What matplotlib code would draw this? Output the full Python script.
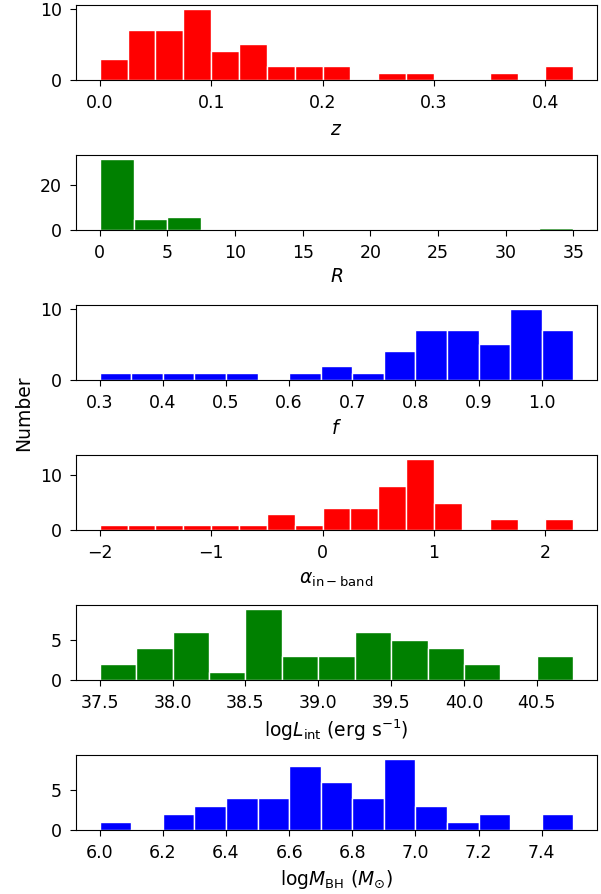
import numpy as np
import matplotlib
matplotlib.use("Agg")
import matplotlib.pyplot as plt

# bin starts / widths / counts
z_start, z_width = 0.0, 0.025
z_counts = [3, 7, 7, 10, 4, 5, 2, 2, 2, 0, 1, 1, 0, 0, 1, 0, 2]

R_start, R_width = 0.0, 2.5
R_counts = [32, 5, 6, 0, 0, 0, 0, 0, 0, 0, 0, 0, 0, 1]

f_start, f_width = 0.3, 0.05
f_counts = [1, 1, 1, 1, 1, 0, 1, 2, 1, 4, 7, 7, 5, 10, 7]

a_start, a_width = -2.0, 0.25
a_counts = [1, 1, 1, 1, 1, 1, 3, 1, 4, 4, 8, 13, 5, 0, 2, 0, 2]

L_start, L_width = 37.5, 0.25
L_counts = [2, 4, 6, 1, 9, 3, 3, 6, 5, 4, 2, 0, 3]

M_start, M_width = 6.0, 0.1
M_counts = [1, 0, 2, 3, 4, 4, 8, 6, 4, 9, 3, 1, 2, 0, 2]

panels = [
    (z_start, z_width, z_counts, 'red', r'$z$', [0, 10], 6),
    (R_start, R_width, R_counts, 'green', r'$R$', [0, 20], 4),
    (f_start, f_width, f_counts, 'blue', r'$f$', [0, 10], 5),
    (a_start, a_width, a_counts, 'red', r'$\alpha_{\rm in-band}$', [0, 10], 6),
    (L_start, L_width, L_counts, 'green', r'log$L_{\rm int}$ (erg s$^{-1}$)', [0, 5], 4.2),
    (M_start, M_width, M_counts, 'blue', r'log$M_{\rm BH}$ ($M_{\odot}$)', [0, 5], 4.5),
]

plt.rcParams['font.size'] = 12.5
plt.rcParams['axes.labelsize'] = 13.5
plt.rcParams['xtick.major.size'] = 4
plt.rcParams['ytick.major.size'] = 4
plt.rcParams['xtick.major.pad'] = 6
plt.rcParams['ytick.major.pad'] = 6

fig, axes = plt.subplots(6, 1, figsize=(6.01, 8.94), dpi=100)
fig.subplots_adjust(left=0.1265, right=0.9933, top=0.9944, bottom=0.0716, hspace=1.0)

for ax, (start, width, counts, color, label, yt, lp) in zip(axes, panels):
    counts = np.array(counts)
    edges = start + width * np.arange(len(counts) + 1)
    ax.hist(edges[:-1], bins=edges, weights=counts, color=color, ec='white')
    ax.set_xlabel(label, labelpad=lp)
    ax.set_yticks(yt)

fig.text(0.039, 1 - 413 / 894, 'Number', rotation=90, ha='center', va='center', fontsize=13.5)

fig.savefig('out.png', dpi=100)
